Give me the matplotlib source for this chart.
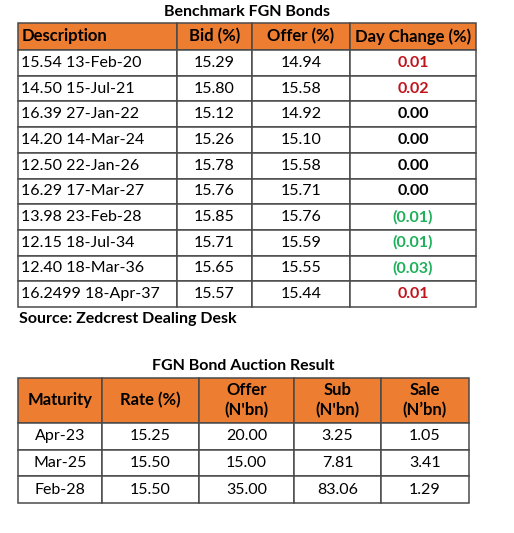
import matplotlib
matplotlib.use("Agg")
import matplotlib.pyplot as plt
from matplotlib.table import Table

plt.rcParams['font.family'] = ['Lato', 'DejaVu Sans']

# benchmark bonds
bond_headers = ["Description", "Bid (%)", "Offer (%)", "Day Change (%)"]
bond_desc = ["15.54 13-Feb-20", "14.50 15-Jul-21", "16.39 27-Jan-22", "14.20 14-Mar-24",
             "12.50 22-Jan-26", "16.29 17-Mar-27", "13.98 23-Feb-28", "12.15 18-Jul-34",
             "12.40 18-Mar-36", "16.2499 18-Apr-37"]
bond_bid = [15.29, 15.80, 15.12, 15.26, 15.78, 15.76, 15.85, 15.71, 15.65, 15.57]
bond_offer = [14.94, 15.58, 14.92, 15.10, 15.58, 15.71, 15.76, 15.59, 15.55, 15.44]
bond_change = [0.01, 0.02, 0.00, 0.00, 0.00, 0.00, -0.01, -0.01, -0.03, 0.01]

# auction result
auc_headers = ["Maturity", "Rate (%)", "Offer\n(N'bn)", "Sub\n(N'bn)", "Sale\n(N\u2019bn)"]
auc_maturity = ["Apr-23", "Mar-25", "Feb-28"]
auc_rate = [15.25, 15.50, 15.50]
auc_offer = [20.00, 15.00, 35.00]
auc_sub = [3.25, 7.81, 83.06]
auc_sale = [1.05, 3.41, 1.29]

ORANGE = "#ED7D31"
EDGE = "#4a4a4a"
RED = "#C0141C"
GREEN = "#1EB05A"
W, H = 514, 533
FS = 11.5
FS_HEAD = 12


def px_bbox(x0, y0, x1, y1):
    return [x0 / W, 1 - y1 / H, (x1 - x0) / W, (y1 - y0) / H]


def fmt_change(v):
    if v < 0:
        return "({:.2f})".format(-v)
    return "{:.2f}".format(v)


def change_color(v):
    if v > 0:
        return RED
    if v < 0:
        return GREEN
    return "black"


fig = plt.figure(figsize=(5.14, 5.33), dpi=100)
ax = fig.add_axes([0, 0, 1, 1])
ax.axis('off')

# ---- table 1 ----
t1 = Table(ax, bbox=px_bbox(18, 23, 476, 307))
col_w1 = [159, 75, 98, 126]
for c, name in enumerate(bond_headers):
    cell = t1.add_cell(0, c, width=col_w1[c], height=27, text=name,
                       loc='left' if c == 0 else 'center',
                       facecolor=ORANGE, edgecolor=EDGE)
    cell.PAD = 0.02
for r in range(len(bond_desc)):
    row = [bond_desc[r], "%.2f" % bond_bid[r], "%.2f" % bond_offer[r], fmt_change(bond_change[r])]
    for c, txt in enumerate(row):
        cell = t1.add_cell(r + 1, c, width=col_w1[c], height=25.7, text=txt,
                           loc='left' if c == 0 else 'center',
                           facecolor='white', edgecolor=EDGE)
        cell.PAD = 0.02
t1.auto_set_font_size(False)
t1.set_fontsize(FS)
for (r, c), cell in t1.get_celld().items():
    cell.set_linewidth(1.1)
    if r == 0:
        cell.get_text().set_fontweight('bold')
        cell.get_text().set_fontsize(FS_HEAD)
    elif c == 3:
        cell.get_text().set_fontweight('bold')
        cell.get_text().set_color(change_color(bond_change[r - 1]))
ax.add_table(t1)

ax.text(247 / W, 1 - 12 / H, "Benchmark FGN Bonds", transform=ax.transAxes,
        ha='center', va='center', fontsize=FS, fontweight='bold')
ax.text(19 / W, 1 - 319 / H, "Source: Zedcrest Dealing Desk", transform=ax.transAxes,
        ha='left', va='center', fontsize=FS, fontweight='bold')

# ---- table 2 ----
t2 = Table(ax, bbox=px_bbox(18, 378, 469, 503))
col_w2 = [84, 97, 95, 87, 88]
for c, name in enumerate(auc_headers):
    t2.add_cell(0, c, width=col_w2[c], height=45, text=name, loc='center',
                facecolor=ORANGE, edgecolor=EDGE)
for r in range(len(auc_maturity)):
    row = [auc_maturity[r], "%.2f" % auc_rate[r], "%.2f" % auc_offer[r],
           "%.2f" % auc_sub[r], "%.2f" % auc_sale[r]]
    for c, txt in enumerate(row):
        t2.add_cell(r + 1, c, width=col_w2[c], height=26.7, text=txt, loc='center',
                    facecolor='white', edgecolor=EDGE)
t2.auto_set_font_size(False)
t2.set_fontsize(FS)
for (r, c), cell in t2.get_celld().items():
    cell.set_linewidth(1.1)
    if r == 0:
        cell.get_text().set_fontweight('bold')
        cell.get_text().set_fontsize(FS_HEAD)
        cell.get_text().set_linespacing(1.3)
ax.add_table(t2)

ax.text(243 / W, 1 - 366 / H, "FGN Bond Auction Result", transform=ax.transAxes,
        ha='center', va='center', fontsize=FS, fontweight='bold')

fig.savefig("out.png", dpi=100)
